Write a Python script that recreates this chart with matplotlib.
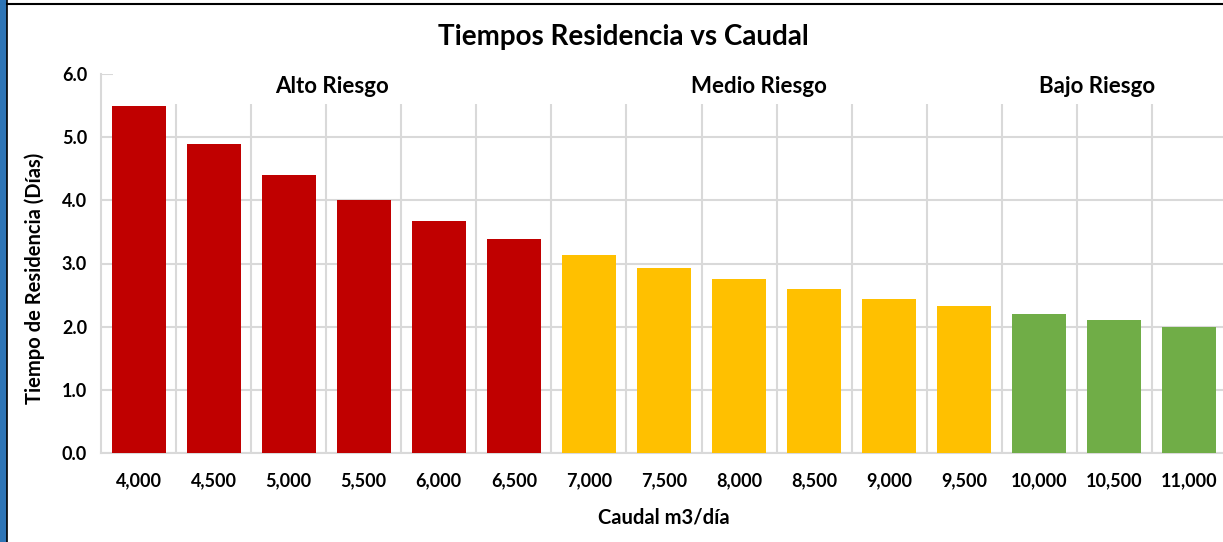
import numpy as np
import matplotlib.pyplot as plt
from matplotlib.patches import Rectangle

plt.rcParams['font.family'] = ['Lato', 'DejaVu Sans']

# data
caudal = ["4,000", "4,500", "5,000", "5,500", "6,000", "6,500", "7,000", "7,500",
          "8,000", "8,500", "9,000", "9,500", "10,000", "10,500", "11,000"]
tiempo = [5.50, 4.89, 4.40, 4.00, 3.67, 3.38, 3.14, 2.93,
          2.75, 2.59, 2.44, 2.32, 2.20, 2.10, 2.00]
riesgo = ["Alto"] * 6 + ["Medio"] * 6 + ["Bajo"] * 3
grupos = ["Alto Riesgo", "Medio Riesgo", "Bajo Riesgo"]
grupo_x = [2.58, 8.27, 12.77]

colores = {"Alto": "#C00000", "Medio": "#FFC000", "Bajo": "#70AD47"}
grid_c = "#D9D9D9"

fig = plt.figure(figsize=(12.23, 5.42), dpi=100)
ax = fig.add_axes([101/1223, 1-453/542, 1126/1223, 379/542])

x = np.arange(len(caudal))
ax.bar(x, tiempo, width=0.72, color=[colores[r] for r in riesgo], zorder=3)

ax.set_xlim(-0.5, len(caudal) - 0.5)
ax.set_ylim(0, 6)
ax.set_yticks(np.arange(0, 6.1, 1.0))
ax.set_yticklabels([f"{v:.1f}" for v in np.arange(0, 6.1, 1.0)])
ax.set_xticks(x)
ax.set_xticklabels(caudal)
ax.set_xticks(x[:-1] + 0.5, minor=True)
ax.tick_params(axis='both', which='both', length=0, labelsize=13)
ax.tick_params(axis='x', pad=14)
ax.tick_params(axis='y', pad=10)
for lab in ax.get_xticklabels() + ax.get_yticklabels():
    lab.set_fontweight('bold')

ax.grid(axis='y', which='major', color=grid_c, lw=1.5, zorder=0)
ax.grid(axis='x', which='minor', color=grid_c, lw=1.5, zorder=0)
for s in ['top', 'right']:
    ax.spines[s].set_visible(False)
for s in ['left', 'bottom']:
    ax.spines[s].set_color(grid_c)
    ax.spines[s].set_linewidth(1.5)
    ax.spines[s].set_zorder(1)

# white label band covering the top of the grid
ax.add_patch(Rectangle((-0.34, 5.53), 15.2, 0.6, facecolor='white',
                       edgecolor='none', zorder=2.5, clip_on=False))
for gx, g in zip(grupo_x, grupos):
    ax.text(gx, 5.8, g, ha='center', va='center', fontsize=16,
            fontweight='bold', zorder=4)

ax.set_ylabel("Tiempo de Residencia (Días)", fontsize=14.5, fontweight='bold', labelpad=12, y=0.46)
ax.set_xlabel("Caudal m3/día", fontsize=14.5, fontweight='bold', labelpad=13)
fig.text(623/1223, 1-37/542, "Tiempos Residencia vs Caudal", ha='center', va='center',
         fontsize=20, fontweight='bold')

# frame: blue strip at left, black line on top
fig.patches.append(Rectangle((0, 0), 7/1223, 1, transform=fig.transFigure,
                             facecolor='#2E75B6', edgecolor='none'))
fig.add_artist(plt.Line2D([7/1223, 7/1223], [0, 1], color='black', lw=1.2))
fig.add_artist(plt.Line2D([7/1223, 1], [1-4/542, 1-4/542], color='black', lw=1.5))

fig.savefig("out.png", dpi=100)
